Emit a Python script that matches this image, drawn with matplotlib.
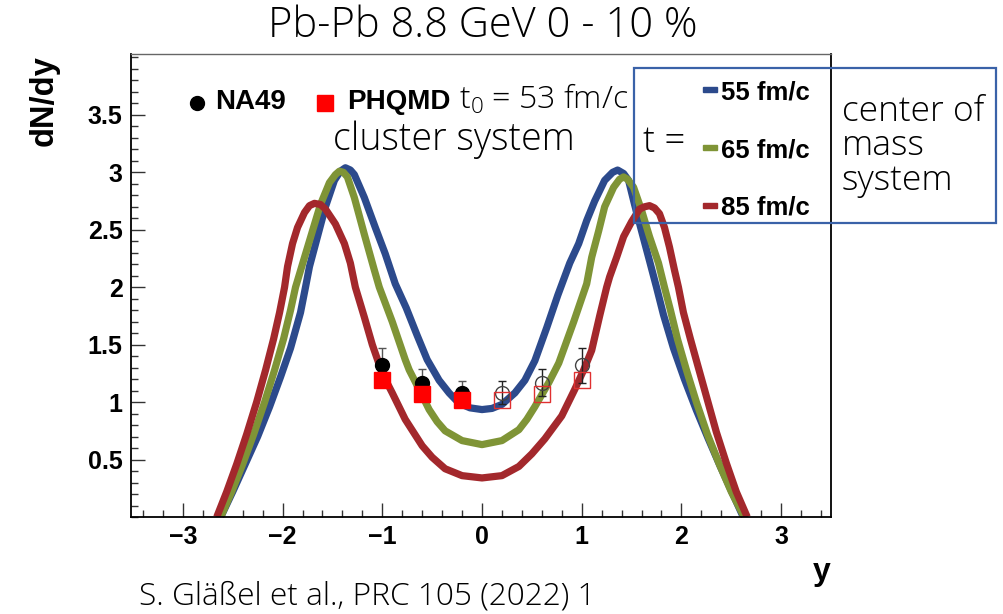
import numpy as np
import matplotlib
matplotlib.use('Agg')
import matplotlib.pyplot as plt
from matplotlib.patches import Rectangle
from matplotlib.ticker import MultipleLocator

plt.rcParams['font.family'] = ['Liberation Sans', 'DejaVu Sans']
plt.rcParams['mathtext.fontset'] = 'custom'
plt.rcParams['mathtext.rm'] = 'Open Sans'

# PHQMD curves: dN/dy vs y
y55 = [-2.62, -2.50, -2.38, -2.25, -2.13, -2.02, -1.92, -1.82, -1.77, -1.73, -1.65,
       -1.57, -1.48, -1.42, -1.37, -1.32, -1.28, -1.18, -1.07, -0.97, -0.87, -0.76,
       -0.65, -0.55, -0.43, -0.33, -0.23, -0.12, 0.0, 0.10, 0.20, 0.33, 0.43, 0.53,
       0.65, 0.76, 0.88, 0.97, 1.05, 1.13, 1.23, 1.31, 1.36, 1.42, 1.47, 1.53, 1.60,
       1.68, 1.75, 1.82, 1.92, 2.03, 2.15, 2.27, 2.39, 2.51, 2.62]
dn55 = [0.0, 0.22, 0.45, 0.70, 0.96, 1.22, 1.47, 1.78, 2.00, 2.18, 2.44,
        2.70, 2.93, 3.01, 3.04, 3.02, 2.98, 2.78, 2.52, 2.29, 2.03, 1.82,
        1.58, 1.37, 1.19, 1.08, 0.99, 0.95, 0.935, 0.945, 0.98, 1.08, 1.19, 1.36,
        1.65, 1.93, 2.21, 2.38, 2.58, 2.75, 2.93, 3.00, 3.02, 2.99, 2.93, 2.72, 2.49,
        2.23, 2.00, 1.76, 1.47, 1.20, 0.93, 0.68, 0.44, 0.21, 0.0]

y65 = [-2.62, -2.51, -2.40, -2.29, -2.18, -2.08, -1.99, -1.92, -1.87, -1.78, -1.70,
       -1.62, -1.53, -1.47, -1.43, -1.39, -1.35, -1.28, -1.18, -1.08, -1.03, -0.90,
       -0.77, -0.73, -0.63, -0.53, -0.45, -0.37, -0.20, 0.0, 0.20, 0.37, 0.45, 0.53,
       0.67, 0.77, 0.92, 1.05, 1.10, 1.17, 1.23, 1.32, 1.38, 1.42, 1.46, 1.52, 1.60,
       1.68, 1.77, 1.83, 1.89, 1.96, 2.05, 2.15, 2.26, 2.38, 2.50, 2.63]
dn65 = [0.0, 0.22, 0.46, 0.72, 1.00, 1.28, 1.55, 1.80, 2.00, 2.26, 2.49,
        2.72, 2.91, 2.98, 3.01, 3.00, 2.96, 2.78, 2.46, 2.15, 2.00, 1.70,
        1.37, 1.28, 1.11, 0.935, 0.83, 0.75, 0.665, 0.63, 0.665, 0.76, 0.85, 0.96,
        1.17, 1.34, 1.70, 2.03, 2.26, 2.49, 2.70, 2.87, 2.94, 2.96, 2.94, 2.87, 2.67,
        2.44, 2.21, 2.00, 1.80, 1.55, 1.28, 1.00, 0.72, 0.46, 0.22, 0.0]

y85 = [-2.66, -2.56, -2.46, -2.36, -2.26, -2.17, -2.09, -2.03, -1.98, -1.95, -1.90,
       -1.85, -1.78, -1.73, -1.68, -1.62, -1.57, -1.47, -1.38, -1.32, -1.27, -1.18,
       -1.10, -1.00, -0.90, -0.77, -0.60, -0.50, -0.37, -0.20, 0.0, 0.20, 0.37, 0.50,
       0.63, 0.80, 0.93, 1.02, 1.10, 1.18, 1.25, 1.28, 1.35, 1.42, 1.50, 1.58, 1.63,
       1.68, 1.73, 1.78, 1.83, 1.88, 1.93, 1.97, 2.02, 2.09, 2.17, 2.26, 2.35, 2.45,
       2.55, 2.66]
dn85 = [0.0, 0.22, 0.46, 0.72, 1.00, 1.28, 1.55, 1.78, 2.00, 2.18, 2.38,
        2.52, 2.65, 2.71, 2.73, 2.72, 2.68, 2.55, 2.38, 2.21, 2.00, 1.74,
        1.50, 1.25, 1.08, 0.85, 0.62, 0.52, 0.42, 0.36, 0.34, 0.36, 0.44, 0.55,
        0.68, 0.88, 1.11, 1.28, 1.45, 1.75, 2.00, 2.09, 2.26, 2.44, 2.57, 2.68, 2.70,
        2.71, 2.69, 2.64, 2.52, 2.35, 2.15, 2.00, 1.78, 1.55, 1.30, 1.02, 0.74, 0.47,
        0.22, 0.0]

# NA49 data (measured, y < 0) and reflected points (y > 0)
na49_y = [-1.0, -0.6, -0.2]
na49_dn = [1.32, 1.17, 1.08]
na49_err = [0.15, 0.12, 0.10]
refl_y = [0.2, 0.6, 1.0]
refl_dn = [1.08, 1.17, 1.32]
refl_err = [0.10, 0.12, 0.15]

# PHQMD points at the NA49 rapidities
phqmd_y = [-1.0, -0.6, -0.2]
phqmd_dn = [1.19, 1.07, 1.02]
phqmd_refl_y = [0.2, 0.6, 1.0]
phqmd_refl_dn = [1.02, 1.07, 1.19]

times = ['55 fm/c', '65 fm/c', '85 fm/c']
colors = ['#2c4a8c', '#7f9436', '#a3282c']

W, H = 1004, 614
fig = plt.figure(figsize=(W / 100, H / 100), dpi=100)
ax = fig.add_axes([131 / W, 97 / H, 700 / W, 463 / H])

light = dict(family=['Open Sans', 'DejaVu Sans'], fontweight='light')


def ftext(x, y, s, **kw):
    # place text in figure pixel coordinates (y from top)
    fig.text(x / W, 1 - y / H, s, **kw)


for xs, ys, c in zip([y55, y65, y85], [dn55, dn65, dn85], colors):
    ax.plot(xs, ys, color=c, lw=5.2, solid_joinstyle='round', solid_capstyle='butt', zorder=2)

ax.errorbar(na49_y, na49_dn, yerr=na49_err, fmt='o', color='black', ms=10,
            ecolor='#555555', elinewidth=1, capsize=3, zorder=3)
ax.errorbar(refl_y, refl_dn, yerr=refl_err, fmt='o', mfc='none', mec='#444444',
            mew=1, ms=10, ecolor='#222222', elinewidth=1, capsize=3, zorder=3)
ax.plot(phqmd_y, phqmd_dn, 's', color='#ff0000', ms=11, zorder=4)
ax.plot(phqmd_refl_y, phqmd_refl_dn, 's', mfc='none', mec='#e03030', mew=1, ms=11, zorder=4)

ax.set_xlim(-3.52, 3.5)
ax.set_ylim(0, 4.03)
ax.xaxis.set_major_locator(MultipleLocator(1))
ax.xaxis.set_minor_locator(MultipleLocator(0.2))
ax.yaxis.set_major_locator(MultipleLocator(0.5))
ax.yaxis.set_minor_locator(MultipleLocator(0.1))
ax.tick_params(which='both', direction='in', top=False, right=False, color='#333333')
ax.tick_params(which='major', length=10, width=1)
ax.tick_params(which='minor', length=5, width=1)
ax.tick_params(axis='x', pad=6)
ax.tick_params(axis='y', pad=6)
ax.set_yticks([0.5, 1, 1.5, 2, 2.5, 3, 3.5])
ax.set_yticklabels(['0.5', '1', '1.5', '2', '2.5', '3', '3.5'])
for lab in ax.get_xticklabels() + ax.get_yticklabels():
    lab.set_fontweight('bold')
    lab.set_fontsize(18)
for side in ['left', 'bottom', 'right']:
    ax.spines[side].set_linewidth(1.3)
ax.spines['top'].set_color('#666666')
ax.spines['top'].set_linewidth(1)

# titles and labels
ftext(483, 26, 'Pb-Pb 8.8 GeV 0 - 10 %', fontsize=30, ha='center', va='center', **light)
ftext(44, 101, 'dN/dy', fontsize=23.5, fontweight='bold', rotation=90, ha='center', va='center')
ftext(822, 572, 'y', fontsize=23, fontweight='bold', ha='center', va='center')
ftext(139, 597, 'S. Gläßel et al., PRC 105 (2022) 1', fontsize=22.8, ha='left', va='center', **light)

# data legend
ax.plot([-2.86], [3.6], 'o', color='black', ms=10, clip_on=False)
ax.plot([-1.57], [3.6], 's', color='#ff0000', ms=11, clip_on=False)
ftext(215, 102, 'NA49', fontsize=20, fontweight='bold', ha='left', va='center')
ftext(347, 102, 'PHQMD', fontsize=20, fontweight='bold', ha='left', va='center')
ftext(459, 100, r'$\mathregular{t_0}$ = 53 fm/c', fontsize=23, ha='left', va='center', **light)
ftext(333, 140, 'cluster system', fontsize=27, ha='left', va='center', **light)

# time legend box
fig.add_artist(Rectangle((634 / W, 1 - 223 / H), 362 / W, 155 / H, transform=fig.transFigure,
                         fill=False, edgecolor='#3a62a8', lw=1.6))
ftext(643, 143, 't =', fontsize=26, ha='left', va='center', **light)
for i, (t, c) in enumerate(zip(times, colors)):
    yy = 91 + i * 58
    fig.add_artist(Rectangle((703 / W, 1 - (yy + 1) / H), 14 / W, 5 / H,
                             transform=fig.transFigure, color=c))
    ftext(721, yy + 1, t, fontsize=18.5, fontweight='bold', ha='left', va='center')
ftext(842, 146, 'center of\nmass\nsystem', fontsize=25.5, ha='left', va='center',
      linespacing=1.0, **light)

fig.savefig('out.png', dpi=100)
